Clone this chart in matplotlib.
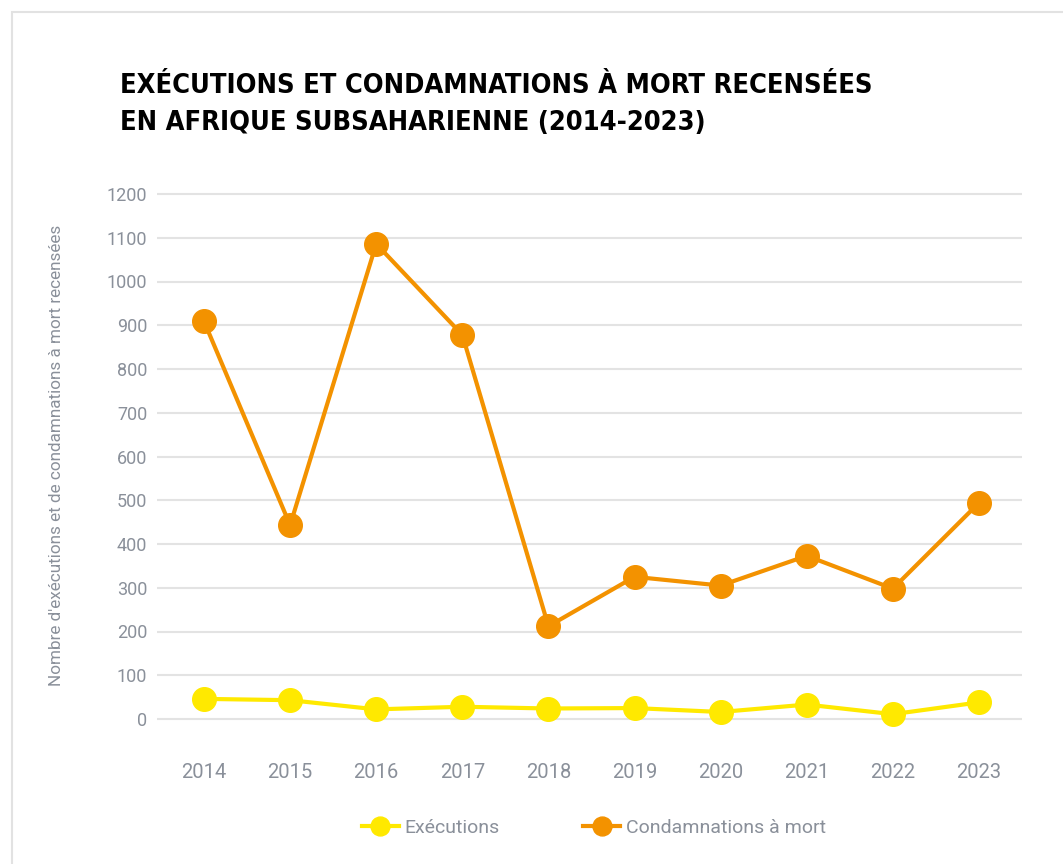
import matplotlib.pyplot as plt
from matplotlib.patches import Rectangle

# data
years = [2014, 2015, 2016, 2017, 2018, 2019, 2020, 2021, 2022, 2023]
executions = [46, 43, 22, 28, 24, 25, 16, 33, 11, 38]
condamnations = [909, 443, 1086, 878, 212, 325, 305, 373, 298, 494]
yticks = list(range(0, 1300, 100))

title_lines = ["EXÉCUTIONS ET CONDAMNATIONS À MORT RECENSÉES",
               "EN AFRIQUE SUBSAHARIENNE (2014-2023)"]
ylabel = "Nombre d'exécutions et de condamnations à mort recensées"

grey = '#8a909a'
yellow = '#ffe900'
orange = '#f39200'

plt.rcParams['font.family'] = ['Roboto', 'DejaVu Sans']

fig = plt.figure(figsize=(10.63, 8.64), dpi=100)

# light frame round the chart
fig.patches.append(Rectangle((12 / 1063, -0.1), 1.2, 1 - 12 / 864 + 0.1,
                             transform=fig.transFigure, fill=False,
                             edgecolor='#e2e2e2', linewidth=1.5))

ax = fig.add_axes([157 / 1063, 1 - 736.5 / 864, 865 / 1063, 560 / 864])

ax.plot(years, executions, color=yellow, linewidth=3, marker='o',
        markersize=17, label='Exécutions', zorder=3)
ax.plot(years, condamnations, color=orange, linewidth=3, marker='o',
        markersize=17, label='Condamnations à mort', zorder=4)

ax.set_xlim(2013.454, 2023.5)
ax.set_ylim(-40, 1240)
ax.set_yticks(yticks)
ax.set_xticks(years)
ax.grid(axis='y', color='#e3e3e3', linewidth=1.5)
ax.set_axisbelow(True)
for s in ax.spines.values():
    s.set_visible(False)
ax.tick_params(axis='both', length=0, colors=grey)
ax.tick_params(axis='y', pad=7, labelsize=13)
ax.tick_params(axis='x', pad=19, labelsize=14.5)

fig.text(57 / 1063, 1 - 455 / 864, ylabel, rotation=90, ha='center',
         va='center', color=grey, fontsize=12.3)

# title, one text per line so each baseline sits where the reference has it
for line, base in zip(title_lines, [93, 130]):
    fig.text(120 / 1063, 1 - base / 864, line, ha='left', va='baseline',
             fontsize=19.5, fontweight='bold', fontstretch='condensed',
             color='black', family=['DejaVu Sans'])

leg = fig.legend(loc='center', bbox_to_anchor=(594 / 1063, 1 - 828 / 864),
                 ncol=2, frameon=False, fontsize=14, handlelength=1.9,
                 handletextpad=0.3, columnspacing=4.3, markerscale=0.8)
for t in leg.get_texts():
    t.set_color(grey)

plt.savefig('out.png', dpi=100)
